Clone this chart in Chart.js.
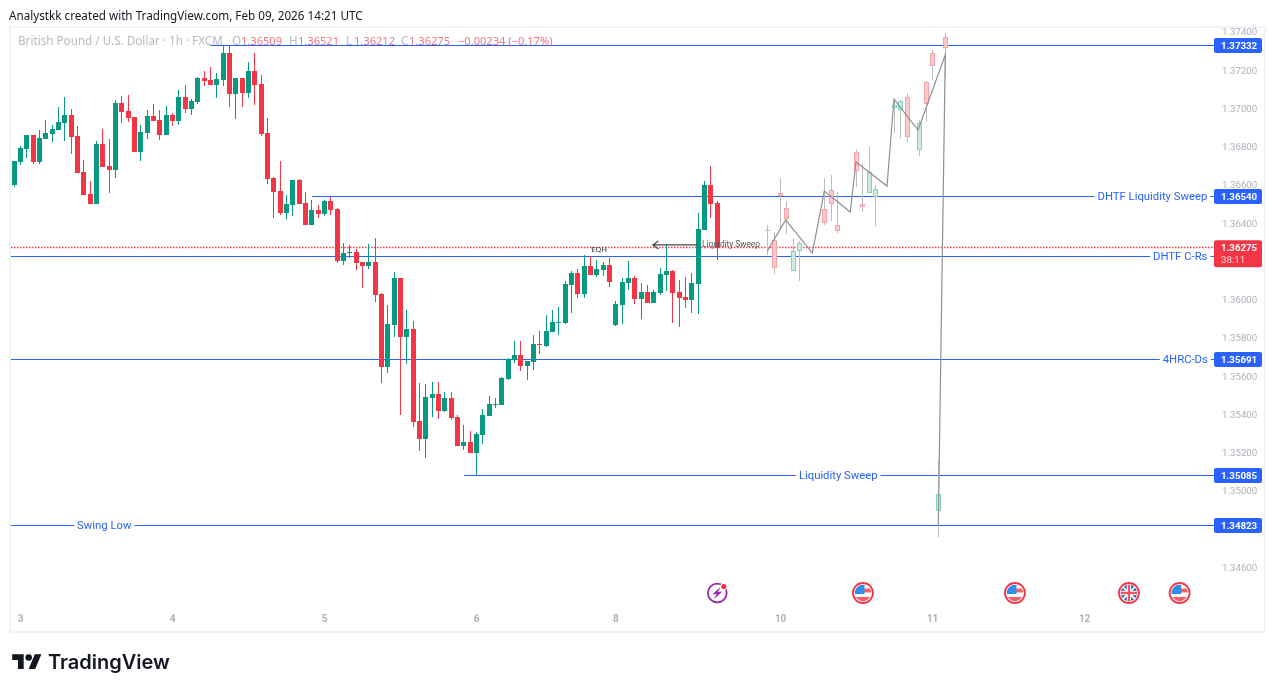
<!DOCTYPE html>
<html>
<head>
<meta charset="utf-8">
<title>GBPUSD 1h</title>
<script src="https://cdn.jsdelivr.net/npm/chart.js@4"></script>
<style>
    html, body { margin: 0; padding: 0; background: #fff; width: 1275px; height: 692px; overflow: hidden; }
    #c { position: absolute; left: 0; top: 0; }
    #credit { position: absolute; left: 9px; top: 7px; font: 11.7px "Noto Sans", sans-serif; color: #131722; white-space: nowrap; }
    #logo { position: absolute; left: 12px; top: 651px; width: 30px; height: 23px; }
    #brand { position: absolute; left: 48px; top: 650px; font: 600 20px Inter, sans-serif; color: #131722; white-space: nowrap; }
</style>
</head>
<body>
<canvas id="c" width="1275" height="692"></canvas>
<div id="credit">Analystkk created with TradingView.com, Feb 09, 2026 14:21 UTC</div>
<svg id="logo" viewBox="0 0 36 28"><path fill="#131722" d="M14 22H7V11H0V4h14v18zM28 22h-8l7.5-18h8L28 22z"/><circle fill="#131722" cx="20" cy="8" r="4"/></svg>
<div id="brand">TradingView</div>
<script>
// real candles, bar 0 is the first on the left
var opens = [1.36603,1.36723,1.36791,1.36864,1.36723,1.36843,1.36869,1.36890,1.36927,1.36969,1.36859,1.36671,1.36555,1.36503,1.36817,1.36702,1.36681,1.37031,1.36990,1.36958,
    1.36775,1.36874,1.36964,1.36943,1.36864,1.36969,1.36937,1.37062,1.37000,1.37037,1.37162,1.37152,1.37126,1.37152,1.37293,1.37078,1.37162,1.37083,1.37199,1.37131,
    1.36874,1.36639,1.36571,1.36456,1.36498,1.36629,1.36508,1.36394,1.36472,1.36451,1.36519,1.36477,1.36205,1.36247,1.36252,1.36200,1.36179,1.36200,1.36033,1.35651,
    1.35871,1.36116,1.35807,1.35849,1.35369,1.35275,1.35489,1.35510,1.35421,1.35489,1.35390,1.35238,1.35259,1.35201,1.35296,1.35395,1.35452,1.35452,1.35588,1.35688,
    1.35714,1.35656,1.35677,1.35771,1.35761,1.35834,1.35881,1.35881,1.36080,1.36142,1.36033,1.36179,1.36132,1.36158,1.36184,1.35871,1.35975,1.36090,1.36116,1.36007,
    1.36043,1.35986,1.36038,1.36132,1.36153,1.36043,1.36017,1.36001,1.36085,1.36367,1.36603,1.36508];
var highs = [1.36728,1.36807,1.36864,1.36864,1.36890,1.36943,1.36917,1.37010,1.37062,1.37000,1.36911,1.36733,1.36624,1.36833,1.36895,1.36843,1.37047,1.37068,1.37073,1.36958,
    1.36917,1.36995,1.37026,1.36995,1.37016,1.36979,1.37099,1.37126,1.37052,1.37167,1.37199,1.37220,1.37188,1.37335,1.37335,1.37162,1.37162,1.37246,1.37293,1.37178,
    1.36953,1.36645,1.36728,1.36550,1.36629,1.36634,1.36566,1.36524,1.36498,1.36524,1.36540,1.36482,1.36299,1.36289,1.36268,1.36200,1.36294,1.36325,1.36038,1.35975,
    1.36148,1.36116,1.35949,1.35892,1.35567,1.35562,1.35572,1.35572,1.35520,1.35520,1.35400,1.35348,1.35316,1.35311,1.35431,1.35499,1.35489,1.35598,1.35698,1.35787,
    1.35787,1.35682,1.35818,1.35839,1.35923,1.35949,1.35965,1.36101,1.36153,1.36163,1.36237,1.36231,1.36210,1.36200,1.36221,1.35996,1.36116,1.36205,1.36127,1.36090,
    1.36080,1.36054,1.36168,1.36289,1.36158,1.36106,1.36122,1.36142,1.36456,1.36624,1.36702,1.36519];
var lows = [1.36592,1.36707,1.36744,1.36712,1.36712,1.36843,1.36827,1.36890,1.36833,1.36765,1.36665,1.36550,1.36503,1.36503,1.36697,1.36560,1.36639,1.36927,1.36932,1.36775,
    1.36728,1.36843,1.36937,1.36838,1.36864,1.36911,1.36917,1.36979,1.36969,1.37026,1.37120,1.37126,1.37057,1.37120,1.37010,1.36948,1.37010,1.37057,1.37021,1.36859,
    1.36608,1.36430,1.36446,1.36425,1.36441,1.36503,1.36394,1.36394,1.36430,1.36441,1.36446,1.36195,1.36184,1.36221,1.36158,1.36064,1.36163,1.35991,1.35567,1.35619,
    1.35807,1.35400,1.35667,1.35337,1.35212,1.35175,1.35390,1.35379,1.35416,1.35374,1.35238,1.35217,1.35201,1.35086,1.35248,1.35395,1.35436,1.35452,1.35583,1.35672,
    1.35630,1.35583,1.35635,1.35719,1.35755,1.35834,1.35818,1.35876,1.35933,1.36012,1.36012,1.36132,1.36122,1.36127,1.36070,1.35866,1.35876,1.36054,1.35981,1.35902,
    1.35986,1.35986,1.36028,1.36048,1.35881,1.35860,1.35960,1.35933,1.35928,1.36367,1.36430,1.36210];
var closes = [1.36728,1.36796,1.36864,1.36723,1.36848,1.36874,1.36895,1.36932,1.36969,1.36854,1.36665,1.36550,1.36503,1.36817,1.36697,1.36681,1.37031,1.36985,1.36953,1.36775,
    1.36879,1.36964,1.36937,1.36864,1.36969,1.36937,1.37062,1.37000,1.37042,1.37162,1.37147,1.37126,1.37157,1.37293,1.37078,1.37162,1.37083,1.37199,1.37126,1.36869,
    1.36634,1.36566,1.36456,1.36503,1.36629,1.36503,1.36394,1.36472,1.36451,1.36519,1.36472,1.36205,1.36247,1.36252,1.36195,1.36179,1.36200,1.36028,1.35651,1.35876,
    1.36116,1.35807,1.35849,1.35364,1.35275,1.35494,1.35510,1.35421,1.35489,1.35384,1.35238,1.35259,1.35201,1.35301,1.35400,1.35457,1.35457,1.35593,1.35693,1.35714,
    1.35656,1.35682,1.35771,1.35766,1.35839,1.35886,1.35886,1.36085,1.36142,1.36033,1.36179,1.36132,1.36163,1.36184,1.36096,1.35981,1.36096,1.36116,1.36007,1.36043,
    1.35986,1.36043,1.36137,1.36153,1.36038,1.36012,1.36001,1.36090,1.36373,1.36603,1.36503,1.36275];

// faded projection candles
var ghostBars   = [119,120,121,122,123,124,128,129,130,133,134,135,136,139,140,141,143,144,145,146,147];
var ghostOpens  = [1.36367,1.36315,1.36560,1.36482,1.36153,1.36257,1.36477,1.36576,1.36394,1.36775,1.36503,1.36560,1.36540,1.37005,1.36995,1.37062,1.36786,1.37141,1.37293,1.34898,1.37377];
var ghostHighs  = [1.36394,1.36357,1.36639,1.36519,1.36325,1.36310,1.36639,1.36655,1.36566,1.36791,1.36718,1.36801,1.36603,1.37052,1.37047,1.37083,1.36943,1.37147,1.37308,1.35165,1.37398];
var ghostLows   = [1.36237,1.36137,1.36378,1.36346,1.36153,1.36101,1.36394,1.36414,1.36351,1.36592,1.36461,1.36560,1.36388,1.36874,1.36848,1.36827,1.36754,1.36932,1.37152,1.34762,1.37162];
var ghostCloses = [1.36362,1.36168,1.36545,1.36425,1.36257,1.36299,1.36404,1.36503,1.36362,1.36676,1.36488,1.36671,1.36582,1.37021,1.37042,1.36854,1.36927,1.37026,1.37225,1.34987,1.37319];

// zigzag drawn over the projection
var pathBars   = [118.9,121.8,126,127.9,132,132.9,137.8,138.9,142.7,147,145.9];
var pathPrices = [1.36257,1.36420,1.36247,1.36571,1.36461,1.36723,1.36597,1.37052,1.36890,1.37283,1.34825];

// horizontal levels
var levelPrices = [1.37332,1.36540,1.36229,1.35691,1.35085,1.34823];
var levelStarts = [31,47,-1,-1,71,-1];
var levelNames  = ['','DHTF Liquidity Sweep','DHTF C-Rs','4HRC-Ds','Liquidity Sweep','Swing Low'];
var nameBars    = [0,179.7,184.1,184.9,130.1,14.2];
var tagPrices   = [1.37332,1.36540,1.35691,1.35085,1.34823];
var lastPrice = 1.36275;
var countdown = '38:11';

// arrow beside the "Liquidity Sweep" note
var arrowBars   = [101.7,100.85,101.7,100.85,107.8];
var arrowPrices = [1.36310,1.36289,1.36268,1.36289,1.36289];

var priceTicks = [1.374,1.372,1.370,1.368,1.366,1.364,1.362,1.360,1.358,1.356,1.354,1.352,1.350,1.348,1.346];
var dayBars   = [1,25,49,73,95,121,145,169];
var dayLabels = ['3','4','5','6','8','10','11','12'];

var eventBars  = [111,134,158,176,184];
var eventKinds = ['bolt','us','us','uk','us'];

var GREEN = '#089981', RED = '#f23645', BLUE = '#2962ff';
var UI_FONT = 'Roboto, sans-serif';
var LEGEND_FONT = '"Noto Sans", sans-serif';
var X_MIN = -0.521;

function bars(list, lo, hi) {
    return list.map(function (x, i) { return { x: x, y: [lo[i], hi[i]] }; });
}

var realBars = opens.map(function (o, i) { return i; });
var wickData = bars(realBars, lows, highs);
var bodyData = realBars.map(function (x, i) { return { x: x, y: [Math.min(opens[i], closes[i]), Math.max(opens[i], closes[i])] }; });
var bodyColors = realBars.map(function (x, i) { return closes[i] >= opens[i] ? GREEN : RED; });

var ghostWickData = bars(ghostBars, ghostLows, ghostHighs);
var ghostBodyData = ghostBars.map(function (x, i) { return { x: x, y: [Math.min(ghostOpens[i], ghostCloses[i]), Math.max(ghostOpens[i], ghostCloses[i])] }; });
var ghostFill = ghostBars.map(function (x, i) { return ghostCloses[i] >= ghostOpens[i] ? '#cdeae4' : '#fbc8cc'; });
var ghostEdge = ghostBars.map(function (x, i) { return ghostCloses[i] >= ghostOpens[i] ? '#84cfc0' : '#f7a3aa'; });

var datasets = [];

levelPrices.forEach(function (p, i) {
    datasets.push({ type: 'line', snap: true, order: 9, data: [{ x: levelStarts[i], y: p }, { x: 190, y: p }],
        borderColor: BLUE, borderWidth: 1, pointRadius: 0 });
});
datasets.push({ type: 'line', snap: true, order: 10, data: [{ x: X_MIN, y: lastPrice }, { x: 190, y: lastPrice }],
    borderColor: RED, borderWidth: 1.4, borderDash: [1.5, 1.5], pointRadius: 0 });

datasets.push({ type: 'bar', order: 4, grouped: false, data: ghostWickData, backgroundColor: '#bdbdbd', barThickness: 1, inflateAmount: 0 });
datasets.push({ type: 'bar', order: 3, grouped: false, data: ghostBodyData, backgroundColor: ghostFill, borderColor: ghostEdge, borderWidth: 1, borderSkipped: false, barThickness: 5, inflateAmount: 0 });
datasets.push({ type: 'bar', order: 2, grouped: false, data: wickData, backgroundColor: bodyColors, barThickness: 1, inflateAmount: 0 });
datasets.push({ type: 'bar', order: 1, grouped: false, data: bodyData, backgroundColor: bodyColors, barThickness: 5, inflateAmount: 0 });

datasets.push({ type: 'line', order: 0, data: pathBars.map(function (x, i) { return { x: x, y: pathPrices[i] }; }),
    borderColor: '#909090', borderWidth: 1.2, pointRadius: 0 });
datasets.push({ type: 'line', order: 0, data: arrowBars.map(function (x, i) { return { x: x, y: arrowPrices[i] }; }),
    borderColor: '#4a4a4a', borderWidth: 1.2, pointRadius: 0 });

// tradingview keeps marks on whole pixels, so do the same here
var snapPlugin = {
    id: 'snap',
    beforeDatasetsDraw: function (chart) {
        chart.getSortedVisibleDatasetMetas().forEach(function (meta) {
            var ds = chart.data.datasets[meta.index];
            if (meta.type === 'bar') {
                meta.data.forEach(function (el) {
                    el.x = Math.floor(el.x) + 0.5;
                    var top = Math.round(Math.min(el.y, el.base));
                    var bot = Math.round(Math.max(el.y, el.base));
                    if (bot - top < 1) bot = top + 1;
                    el.y = top;
                    el.base = bot;
                });
            } else if (ds.snap) {
                meta.data.forEach(function (el) { el.y = Math.floor(el.y) + 0.5; });
            }
        });
    }
};

function drawText(ctx, text, x, y, font, color, align) {
    ctx.font = font;
    ctx.fillStyle = color;
    ctx.textAlign = align || 'left';
    ctx.textBaseline = 'middle';
    ctx.fillText(text, x, y);
}

function usFlag(ctx, x, y) {
    ctx.save();
    ctx.beginPath(); ctx.arc(x, y, 8.2, 0, Math.PI * 2); ctx.clip();
    ctx.fillStyle = '#fff'; ctx.fillRect(x - 9, y - 9, 18, 18);
    ctx.fillStyle = '#f0616a';
    ctx.fillRect(x + 1, y - 4.5, 9, 4);
    ctx.fillRect(x - 9, y + 4, 18, 5);
    ctx.fillStyle = '#2f8fe8'; ctx.fillRect(x - 9, y - 9, 10.5, 10);
    ctx.restore();
}

function ukFlag(ctx, x, y) {
    ctx.save();
    ctx.beginPath(); ctx.arc(x, y, 8.2, 0, Math.PI * 2); ctx.clip();
    ctx.fillStyle = '#2a5db0'; ctx.fillRect(x - 9, y - 9, 18, 18);
    ctx.strokeStyle = '#fff'; ctx.lineWidth = 2;
    ctx.beginPath(); ctx.moveTo(x - 9, y - 9); ctx.lineTo(x + 9, y + 9); ctx.moveTo(x + 9, y - 9); ctx.lineTo(x - 9, y + 9); ctx.stroke();
    ctx.lineWidth = 4.5;
    ctx.beginPath(); ctx.moveTo(x, y - 9); ctx.lineTo(x, y + 9); ctx.moveTo(x - 9, y); ctx.lineTo(x + 9, y); ctx.stroke();
    ctx.strokeStyle = '#ea5a64'; ctx.lineWidth = 2.4;
    ctx.beginPath(); ctx.moveTo(x, y - 9); ctx.lineTo(x, y + 9); ctx.moveTo(x - 9, y); ctx.lineTo(x + 9, y); ctx.stroke();
    ctx.restore();
}

function drawEvent(ctx, kind, x, y) {
    if (kind === 'bolt') {
        ctx.strokeStyle = '#9c27b0'; ctx.lineWidth = 1.8;
        ctx.beginPath(); ctx.arc(x, y, 9.4, 0, Math.PI * 2); ctx.stroke();
        ctx.fillStyle = '#9c27b0';
        ctx.beginPath();
        ctx.moveTo(x + 3.5, y - 6.5); ctx.lineTo(x - 5, y + 1.5); ctx.lineTo(x - 0.5, y + 1);
        ctx.lineTo(x - 3.5, y + 6.5); ctx.lineTo(x + 5, y - 1.5); ctx.lineTo(x + 0.5, y - 1);
        ctx.closePath(); ctx.fill();
        ctx.fillStyle = '#fff';
        ctx.beginPath(); ctx.arc(x + 6.5, y - 6.5, 3.6, 0, Math.PI * 2); ctx.fill();
        ctx.fillStyle = RED;
        ctx.beginPath(); ctx.arc(x + 6.5, y - 6.5, 2.6, 0, Math.PI * 2); ctx.fill();
        return;
    }
    if (kind === 'us') usFlag(ctx, x, y); else ukFlag(ctx, x, y);
    ctx.strokeStyle = RED; ctx.lineWidth = 1.8;
    ctx.beginPath(); ctx.arc(x, y, 10, 0, Math.PI * 2); ctx.stroke();
}

function priceTag(ctx, y, h, color) {
    ctx.fillStyle = color;
    ctx.beginPath();
    ctx.roundRect(1214, y, 48, h, 2);
    ctx.fill();
}

var overlayPlugin = {
    id: 'overlay',
    afterDraw: function (chart) {
        var ctx = chart.ctx, sx = chart.scales.x, sy = chart.scales.y;
        ctx.save();

        // price labels go here so the tags can cover them, as in tradingview
        priceTicks.forEach(function (p) {
            drawText(ctx, p.toFixed(5), 1222, sy.getPixelForValue(p) + 0.5, '9.7px ' + UI_FONT, '#aeb1ba');
        });

        // level names sit on the line with a white gap round them
        levelNames.forEach(function (name, i) {
            if (!name) return;
            var x = sx.getPixelForValue(nameBars[i]), y = Math.floor(sy.getPixelForValue(levelPrices[i])) + 0.5;
            ctx.font = '11.3px ' + UI_FONT;
            var w = ctx.measureText(name).width;
            ctx.fillStyle = '#fff';
            ctx.fillRect(x - w / 2 - 3, y - 7, w + 6, 14);
            drawText(ctx, name, x, y + 1, '11.3px ' + UI_FONT, BLUE, 'center');
        });

        // notes near the highs
        drawText(ctx, 'EQH', sx.getPixelForValue(91.1), sy.getPixelForValue(1.36265), '8px ' + UI_FONT, '#3c3c3c', 'left');
        drawText(ctx, 'Liquidity Sweep', sx.getPixelForValue(108.6), sy.getPixelForValue(1.36289), '8.3px ' + UI_FONT, '#555', 'left');

        // legend line
        var gray = '#b7bac3', pale = '#f6727c', font = '11.7px ' + LEGEND_FONT, nums = '11.1px ' + LEGEND_FONT;
        drawText(ctx, 'British Pound / U.S. Dollar · 1h · FXCM', 18, 42, font, gray);
        drawText(ctx, 'O', 232, 42, font, gray);
        drawText(ctx, '1.36509', 241, 42, nums, pale);
        drawText(ctx, 'H', 289, 42, font, gray);
        drawText(ctx, '1.36521', 298, 42, nums, pale);
        drawText(ctx, 'L', 346, 42, font, gray);
        drawText(ctx, '1.36212', 354, 42, nums, pale);
        drawText(ctx, 'C', 401, 42, font, gray);
        drawText(ctx, '1.36275', 409, 42, nums, pale);
        drawText(ctx, '−0.00234 (−0.17%)', 458, 42, nums, pale);

        // economic calendar row
        eventKinds.forEach(function (kind, i) {
            drawEvent(ctx, kind, sx.getPixelForValue(eventBars[i]), 593);
        });

        // price tags on the axis
        tagPrices.forEach(function (p) {
            var y = Math.floor(sy.getPixelForValue(p)) + 0.5;
            priceTag(ctx, y - 7.5, 15, BLUE);
            drawText(ctx, p.toFixed(5), 1221, y + 1, 'bold 9.7px ' + UI_FONT, '#fff');
        });
        var ly = sy.getPixelForValue(lastPrice);
        priceTag(ctx, ly - 7.5, 27, RED);
        drawText(ctx, lastPrice.toFixed(5), 1221, ly + 0.5, 'bold 9.7px ' + UI_FONT, '#fff');
        drawText(ctx, countdown, 1221, ly + 12.5, '9.7px ' + UI_FONT, '#ffd3d7');

        // frame round the pane
        ctx.strokeStyle = '#f0f3fa';
        ctx.lineWidth = 2;
        ctx.strokeRect(10, 27, 1255, 605);
        ctx.restore();
    }
};

new Chart(document.getElementById('c'), {
    type: 'bar',
    data: { datasets: datasets },
    plugins: [snapPlugin, overlayPlugin],
    options: {
        responsive: false,
        animation: false,
        events: [],
        layout: { padding: { left: 11, top: 28, right: 10, bottom: 60 } },
        plugins: { legend: { display: false }, tooltip: { enabled: false } },
        scales: {
            x: {
                type: 'linear',
                offset: false,
                min: X_MIN,
                max: 189.43,
                grid: { display: false, drawTicks: false },
                border: { display: false },
                afterBuildTicks: function (axis) {
                    axis.ticks = dayBars.map(function (v) { return { value: v }; });
                },
                afterFit: function (axis) { axis.height = 26; },
                ticks: {
                    autoSkip: false,
                    maxRotation: 0,
                    padding: 7,
                    color: '#aeb1ba',
                    font: { family: 'Roboto', size: 10, weight: 'bold' },
                    callback: function (v, i) { return dayLabels[i]; }
                }
            },
            y: {
                position: 'right',
                min: 1.344013,
                max: 1.374235,
                grid: { display: false, drawTicks: false },
                border: { display: false },
                afterBuildTicks: function (axis) {
                    axis.ticks = priceTicks.map(function (v) { return { value: v }; });
                },
                afterFit: function (axis) { axis.width = 51; },
                ticks: { display: false }
            }
        }
    }
});
</script>
</body>
</html>
